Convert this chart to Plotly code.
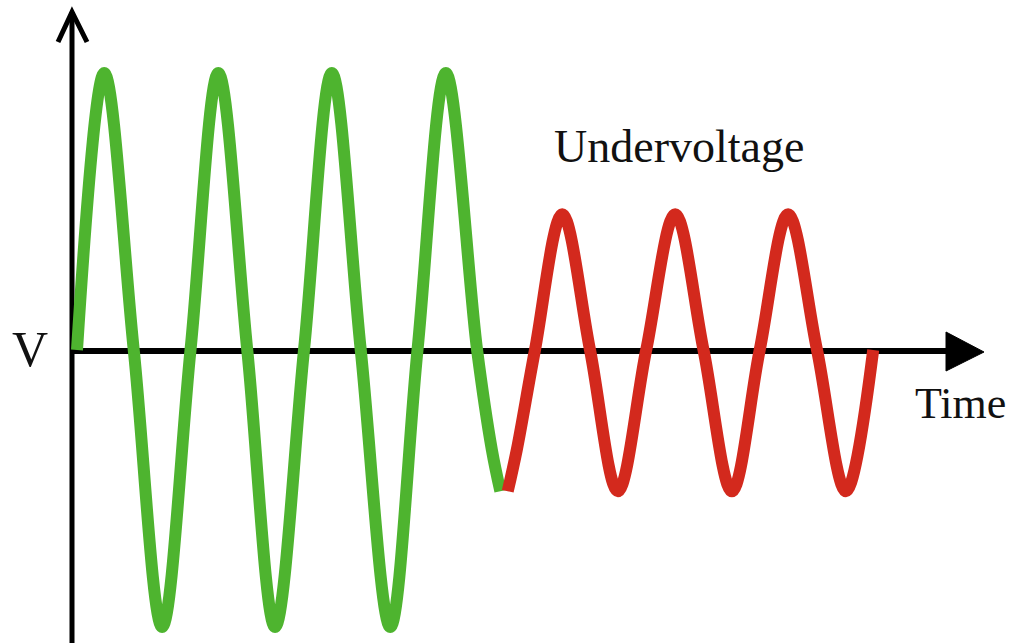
import plotly.graph_objects as go

# ---- data (time in ms, voltage in per-unit) ----
normal_t = [0, 4.8, 10, 15, 20, 24.9, 30, 34.9, 40, 44.9, 50, 55.2, 60, 65.0, 70.5, 73.1, 74.6]
normal_v = [0, 1.0, 0, -1.0, 0, 1.0, 0, -1.0, 0, 1.0, 0, -1.0, 0, 1.0, 0, -0.36, -0.51]

under_t = [75.9, 77.5, 80.7, 85.5, 90.4, 95.3, 100.3, 105.4, 110.4, 115.4, 120.3, 125.3, 130.4, 135.5, 140.3]
under_v = [-0.51, -0.36, 0, 0.49, 0, -0.51, 0, 0.49, 0, -0.51, 0, 0.49, 0, -0.51, 0]

label_v = "V"
label_time = "Time"
label_under = "Undervoltage"

W, H = 1011, 643
GREEN = "#4eb42f"
RED = "#d3291d"
FONT = "Liberation Serif"

def px(x):
    return x / W

def py(y):
    return 1 - y / H

fig = go.Figure()
fig.add_trace(go.Scatter(x=normal_t, y=normal_v, mode="lines",
                         line=dict(color=GREEN, width=12, shape="spline", smoothing=1.0),
                         hoverinfo="skip", showlegend=False))
fig.add_trace(go.Scatter(x=under_t, y=under_v, mode="lines",
                         line=dict(color=RED, width=12, shape="spline", smoothing=1.0),
                         hoverinfo="skip", showlegend=False))

# pixel mapping: 5.675 px per ms, t=0 at px 77; 277 px per unit, v=0 at px 350
sx, x0 = 5.675, 77
sy, y0 = 277, 350
fig.update_xaxes(range=[-x0 / sx, (W - x0) / sx], visible=False)
fig.update_yaxes(range=[-(H - y0) / sy, y0 / sy], visible=False)

shapes = []
# vertical axis
shapes.append(dict(type="line", xref="paper", yref="paper",
                   x0=px(72), x1=px(72), y0=py(H + 5), y1=py(12),
                   line=dict(color="black", width=5), layer="below"))
# chevron arrow head
shapes.append(dict(type="path", xref="paper", yref="paper",
                   path=f"M {px(58)},{py(42)} L {px(72)},{py(12)} L {px(87)},{py(42)}",
                   line=dict(color="black", width=5), layer="below"))
# horizontal axis
shapes.append(dict(type="line", xref="paper", yref="paper",
                   x0=px(72), x1=px(955), y0=py(351), y1=py(351),
                   line=dict(color="black", width=6), layer="below"))
# triangle arrow head
shapes.append(dict(type="path", xref="paper", yref="paper",
                   path=f"M {px(946)},{py(332)} L {px(984)},{py(352)} L {px(946)},{py(371)} Z",
                   fillcolor="black", line=dict(color="black", width=1), layer="below"))

annotations = [
    dict(text=label_v, x=px(30), y=py(349), xref="paper", yref="paper",
         showarrow=False, xanchor="center", yanchor="middle",
         font=dict(family=FONT, size=50, color="#111")),
    dict(text=label_time, x=px(960), y=py(403), xref="paper", yref="paper",
         showarrow=False, xanchor="center", yanchor="middle",
         font=dict(family=FONT, size=44, color="#111")),
    dict(text=label_under, x=px(679), y=py(147), xref="paper", yref="paper",
         showarrow=False, xanchor="center", yanchor="middle",
         font=dict(family=FONT, size=46, color="#111")),
]

fig.update_layout(width=W, height=H, margin=dict(l=0, r=0, t=0, b=0),
                  paper_bgcolor="white", plot_bgcolor="white",
                  shapes=shapes, annotations=annotations, showlegend=False)

fig.write_html("out.html", config={"displayModeBar": False},
               post_script="document.body.style.margin='0px';")
